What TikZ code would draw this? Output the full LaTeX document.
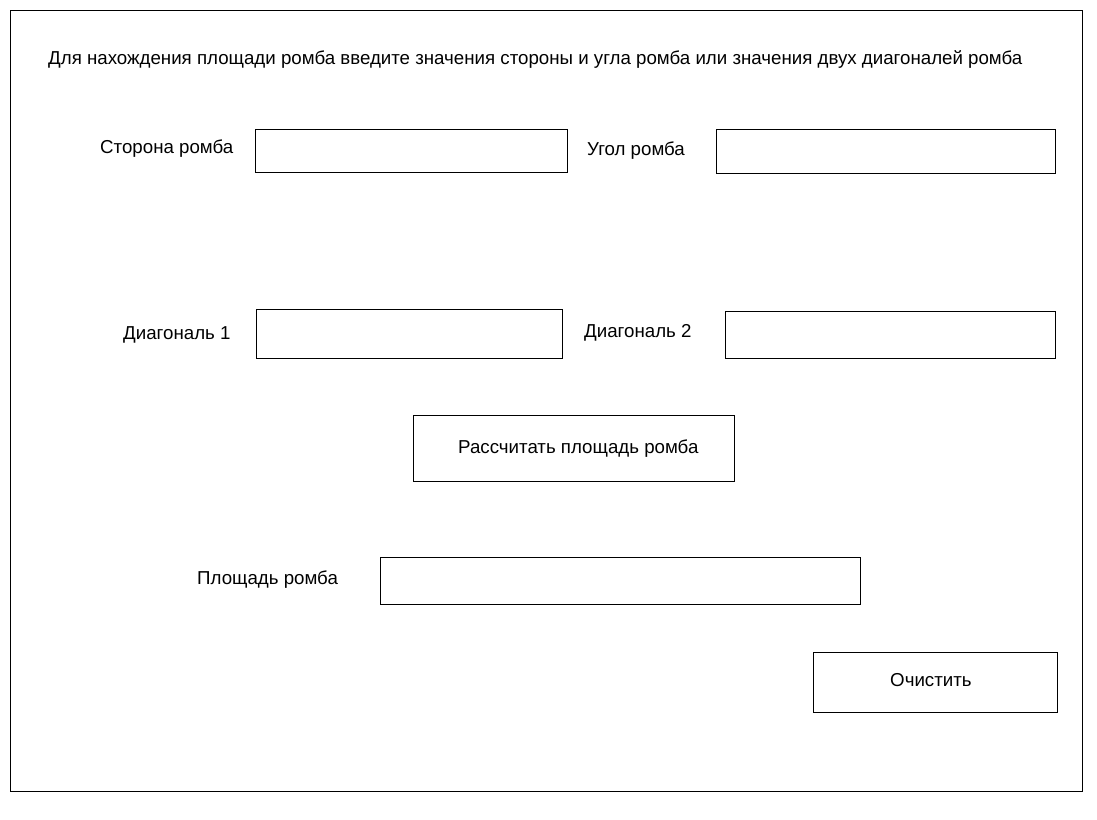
\documentclass[tikz,border=0pt]{standalone}
\usepackage{fontspec}
\setmainfont{Liberation Sans}
\begin{document}
\begin{tikzpicture}[x=1pt,y=-1pt,
  field/.style={draw=black,line width=0.8pt},
  lbl/.style={anchor=base west,inner sep=0pt,font=\fontsize{18.7}{22}\selectfont}]
\useasboundingbox (0,0) rectangle (1097,819);
\draw[line width=0.8pt] (10,10) rectangle (1082,791);
\node[lbl] (title) at (48,64) {Для нахождения площади ромба введите значения стороны и угла ромба или значения двух диагоналей ромба};
\node[lbl] (l1) at (100,153) {Сторона ромба};
\draw[field] (255,129) rectangle (567,172);
\node[lbl] (l2) at (587,155) {Угол ромба};
\draw[field] (716,129) rectangle (1055,173);
\node[lbl] (l3) at (123,339) {Диагональ 1};
\draw[field] (256,309) rectangle (562,358);
\node[lbl] (l4) at (584,337) {Диагональ 2};
\draw[field] (725,311) rectangle (1055,358);
\draw[field] (413,415) rectangle (734,481);
\node[lbl] (b1) at (458,453) {Рассчитать площадь ромба};
\node[lbl] (l5) at (197,584) {Площадь ромба};
\draw[field] (380,557) rectangle (860,604);
\draw[field] (813,652) rectangle (1057,712);
\node[lbl] (b2) at (890,686) {Очистить};
\end{tikzpicture}
\end{document}
